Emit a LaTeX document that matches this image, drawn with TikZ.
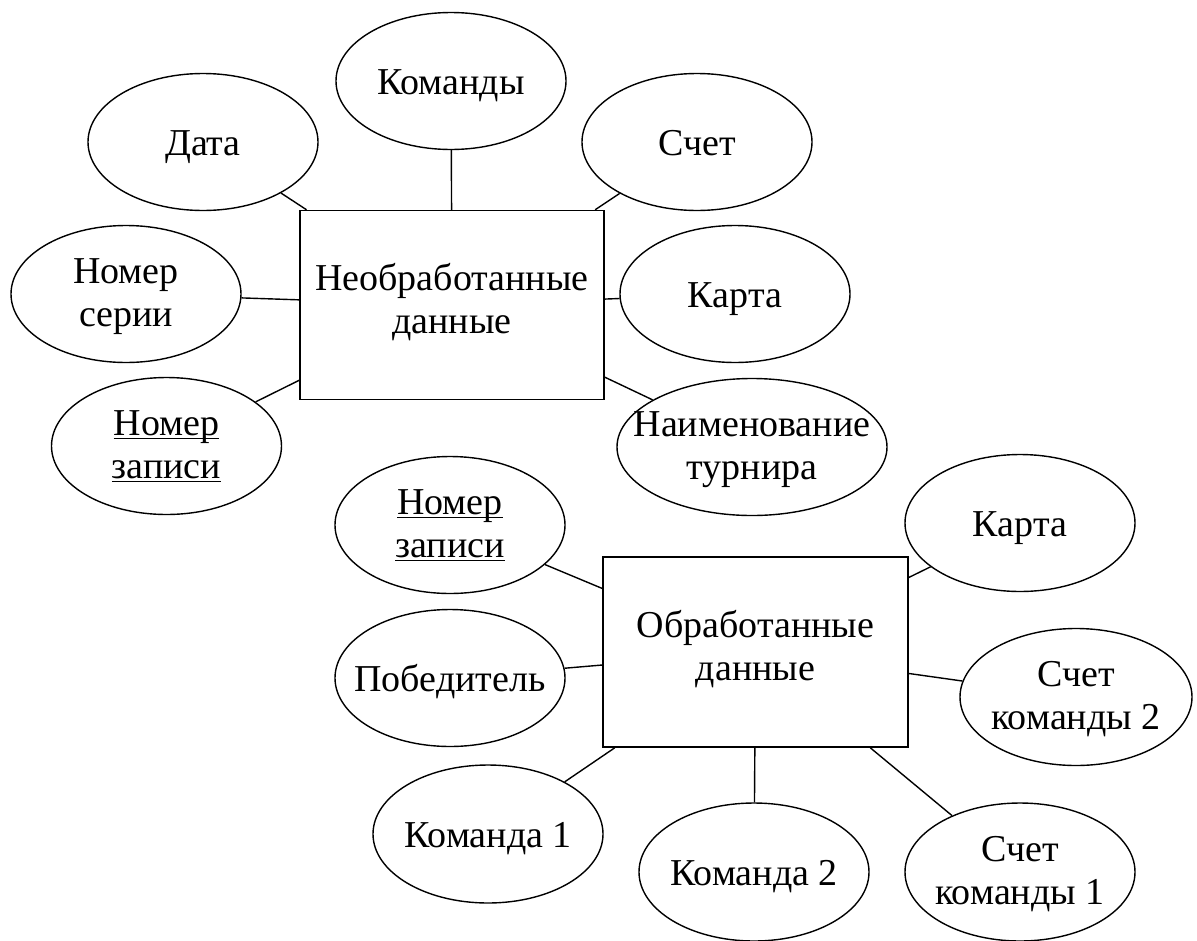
\documentclass[tikz,border=0pt]{standalone}
\usepackage{fontspec}
\setmainfont{Liberation Serif}
\usetikzlibrary{shapes.geometric}
% underline at a fixed depth, crossing descenders
\newcommand\keyul[1]{\setbox0\hbox{#1}\rlap{\rule[-4pt]{\wd0}{1.5pt}}\box0}
\begin{document}
\begin{tikzpicture}[x=1pt,y=-1pt,
  every node/.style={font=\fontsize{38}{43}\selectfont},
  attr/.style={ellipse, draw, line width=1.4pt, inner sep=0pt,
               minimum width=230pt, minimum height=137pt},
  txt/.style={align=center, inner sep=0pt, yshift=-5pt,
              execute at begin node=\strut, execute at end node=\strut},
  entity/.style={rectangle, draw, line width=1.5pt, align=center,
                 minimum width=304pt, minimum height=189pt,
                 execute at begin node=\strut, execute at end node=\strut},
  link/.style={line width=1.4pt}]
\useasboundingbox (0,0) rectangle (1197,940);

% raw data entity
\node[entity] (raw) at (452,305) {Необработанные\\данные};
\node[attr, label={[txt]center:Дата}] (date) at (203,142) {};
\node[attr, label={[txt]center:Команды}] (teams) at (451,81) {};
\node[attr, label={[txt]center:Счет}] (score) at (697,142) {};
\node[attr, label={[txt]center:{Номер\\серии}}] (series) at (126,294) {};
\node[attr, label={[txt]center:Карта}] (map1) at (735,294) {};
\node[attr, label={[txt]center:{\keyul{Номер}\\\keyul{записи}}}] (rec1) at (166.5,446) {};
\node[attr, minimum width=270pt, label={[txt]center:{Наименование\\турнира}}] (tour) at (752,447) {};

\foreach \a in {date,teams,score,series,map1,rec1,tour}
  \draw[link] (\a) -- (raw);

% processed data entity
\node[entity, minimum width=305pt, minimum height=190pt] (proc) at (755.5,652) {Обработанные\\данные};
\node[attr, label={[txt]center:{\keyul{Номер}\\\keyul{записи}}}] (rec2) at (450,525) {};
\node[attr, label={[txt]center:Карта}] (map2) at (1020,523) {};
\node[attr, label={[txt]center:Победитель}] (win) at (450,678) {};
\node[attr, minimum width=232pt, label={[txt]center:{Счет\\команды 2}}] (sc2) at (1076,697) {};
\node[attr, minimum height=138pt, label={[txt]center:Команда 1}] (t1) at (488,834) {};
\node[attr, minimum height=138pt, label={[txt]center:Команда 2}] (t2) at (754,872) {};
\node[attr, minimum height=138pt, label={[txt]center:{Счет\\команды 1}}] (sc1) at (1020,872) {};

\foreach \a in {rec2,map2,win,sc2,t1,t2,sc1}
  \draw[link] (\a) -- (proc);
\end{tikzpicture}
\end{document}
